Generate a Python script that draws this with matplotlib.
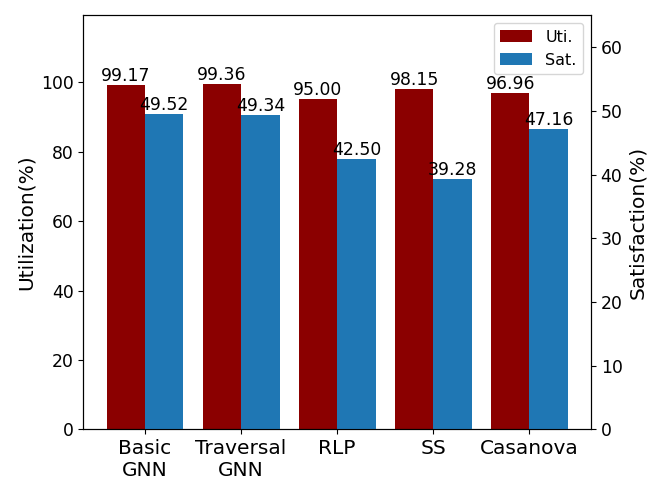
import matplotlib
matplotlib.use("Agg")
import matplotlib.pyplot as plt
import numpy as np

categories = ["Basic\nGNN", "Traversal\nGNN", "RLP", "SS", "Casanova"]
uti = [99.17, 99.36, 95.00, 98.15, 96.96]
sat = [49.52, 49.34, 42.50, 39.28, 47.16]

fig = plt.figure(figsize=(6.64, 4.98), dpi=100)
ax = fig.add_axes([0.1257, 0.1376, 0.7643, 0.8317])
ax2 = ax.twinx()
x = np.arange(len(categories))
w = 0.4
b1 = ax.bar(x - w/2, uti, w, color="#8b0000", label="Uti.")
b2 = ax2.bar(x + w/2, sat, w, color="#1f77b4", label="Sat.")
ax.set_ylim(0, max(uti) * 1.2)
ax2.set_ylim(0, 65)
ax.bar_label(b1, fmt="%.2f", fontsize=12.4, padding=0)
ax2.bar_label(b2, fmt="%.2f", fontsize=12.4, padding=0)
ax.set_xticks(x)
ax.set_xticklabels(categories, fontsize=14.5)
ax.tick_params(axis="y", labelsize=12.4)
ax2.tick_params(axis="y", labelsize=12.4)
ax.set_ylabel("Utilization(%)", fontsize=14.5)
ax2.set_ylabel("Satisfaction(%)", fontsize=14.5)
ax2.legend([b1, b2], ["Uti.", "Sat."], loc="upper right", fontsize=11.5)
fig.savefig("out.png", dpi=100)
